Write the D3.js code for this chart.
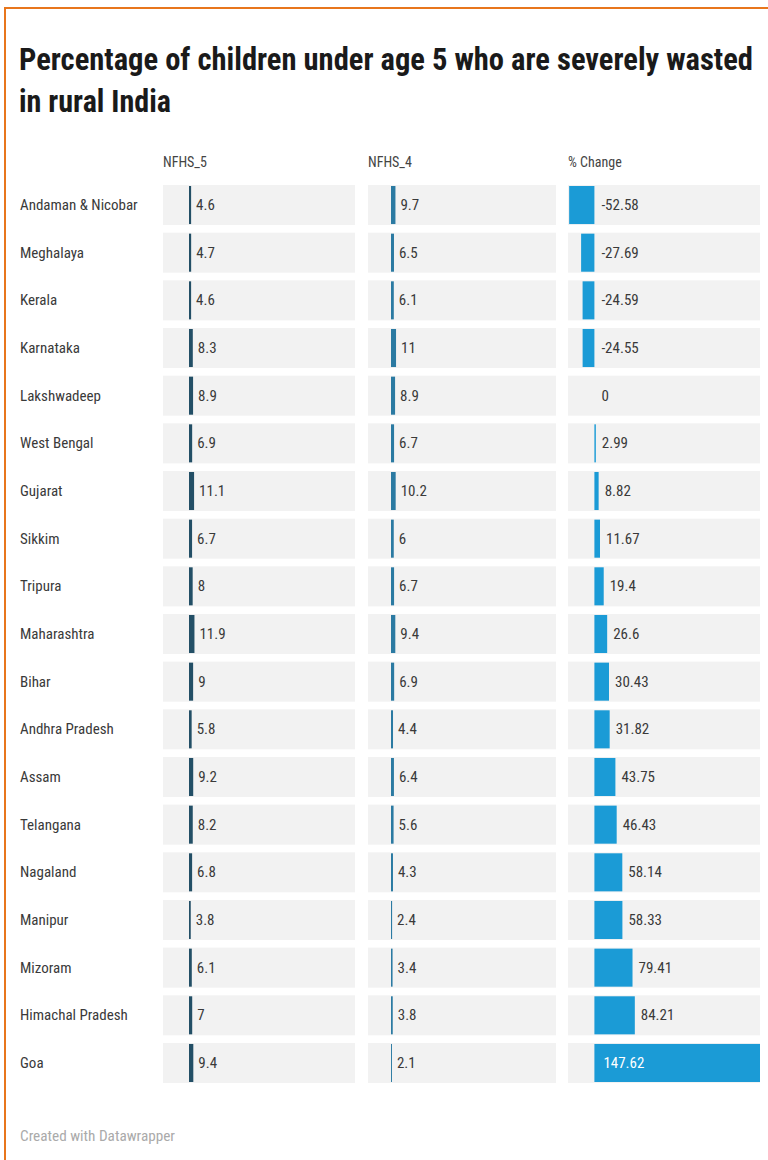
<!DOCTYPE html>
<html><head><meta charset="utf-8">
<script src="https://cdn.jsdelivr.net/npm/d3@7"></script>
<style>
body{margin:0;background:#fff}
text{font-family:"Liberation Sans Narrow","Roboto Condensed","Roboto",sans-serif}
</style>
</head><body><svg id="c" width="768" height="1160"></svg>
<script>
const states = ["Andaman & Nicobar","Meghalaya","Kerala","Karnataka","Lakshwadeep","West Bengal","Gujarat","Sikkim","Tripura","Maharashtra","Bihar","Andhra Pradesh","Assam","Telangana","Nagaland","Manipur","Mizoram","Himachal Pradesh","Goa"];
const nfhs5 = [4.6,4.7,4.6,8.3,8.9,6.9,11.1,6.7,8,11.9,9,5.8,9.2,8.2,6.8,3.8,6.1,7,9.4];
const nfhs4 = [9.7,6.5,6.1,11,8.9,6.7,10.2,6,6.7,9.4,6.9,4.4,6.4,5.6,4.3,2.4,3.4,3.8,2.1];
const change = [-52.58,-27.69,-24.59,-24.55,0,2.99,8.82,11.67,19.4,26.6,30.43,31.82,43.75,46.43,58.14,58.33,79.41,84.21,147.62];
const headers = ["NFHS_5","NFHS_4","% Change"];
const titleLines = ["Percentage of children under age 5 who are severely wasted","in rural India"];
const footer = "Created with Datawrapper";

const svg = d3.select("#c");
const orange = "#e8761c";
svg.append("line").attr("x1",5).attr("x2",768).attr("y1",8).attr("y2",8).attr("stroke",orange).attr("stroke-width",2);
svg.append("line").attr("x1",5).attr("x2",5).attr("y1",7).attr("y2",1160).attr("stroke",orange).attr("stroke-width",2);

// title
const t1 = svg.append("text").attr("x",19).attr("y",70).attr("font-size",32).attr("font-weight","bold").attr("fill","#1a1a1a")
  .text(titleLines[0]);
const natural = t1.node().getComputedTextLength();
if (natural > 734) t1.attr("font-size", 32*734/natural);
t1.attr("textLength",734).attr("lengthAdjust","spacingAndGlyphs");
svg.append("text").attr("x",19).attr("y",112).attr("font-size",32).attr("font-weight","bold").attr("fill","#1a1a1a")
  .attr("textLength",152).attr("lengthAdjust","spacingAndGlyphs").text(titleLines[1]);

const y = d3.scaleBand().domain(states).range([185,1083]).paddingInner(0.16);
const cols = [{x0:163,x1:355},{x0:368,x1:556},{x0:568,x1:760}];

// headers
headers.forEach((h,i)=>{
  svg.append("text").attr("x",cols[i].x0).attr("y",167).attr("font-size",14).attr("fill","#444").text(h);
});

const rows = svg.selectAll("g.row").data(states).join("g").attr("class","row")
  .attr("transform",d=>`translate(0,${y(d)})`);
const bw = y.bandwidth();

rows.append("text").attr("x",20).attr("y",bw/2+5).attr("font-size",15).attr("fill","#3a3a3a").text(d=>d);
cols.forEach(c=>{
  rows.append("rect").attr("x",c.x0).attr("width",c.x1-c.x0).attr("y",0).attr("height",bw).attr("fill","#f2f2f2");
});

const xNF = d3.scaleLinear().domain([0,12]).range([0,5.5]);
const nfStart = [189,391];
const nfColor = ["#234f66","#2b7aa2"];
[nfhs5,nfhs4].forEach((arr,k)=>{
  rows.append("rect").attr("x",nfStart[k]).attr("y",1).attr("height",bw-2)
    .attr("width",(d,i)=>xNF(arr[i])).attr("fill",nfColor[k]);
  rows.append("text").attr("x",(d,i)=>nfStart[k]+xNF(arr[i])+5).attr("y",bw/2+5)
    .attr("font-size",15).attr("fill","#3a3a3a").text((d,i)=>arr[i]);
});

// % change: scale with a break so the top value fills the column
const xC = d3.scaleLinear().domain([-55,0,90,147.62]).range([568,594.4,637.6,760]);
const blue = "#1b9bd6";
rows.append("rect").attr("x",(d,i)=>Math.min(xC(0),xC(change[i]))).attr("y",1).attr("height",bw-2)
  .attr("width",(d,i)=>Math.abs(xC(change[i])-xC(0))).attr("fill",blue);
rows.append("text").attr("y",bw/2+5).attr("font-size",15)
  .attr("x",(d,i)=>{const v=change[i]; if(v<=0) return xC(0)+7; const e=xC(v); return e+50>cols[2].x1? xC(0)+9 : e+6;})
  .attr("fill",(d,i)=>{const v=change[i]; return v>0 && xC(v)+50>cols[2].x1 ? "#fff":"#3a3a3a";})
  .text((d,i)=>change[i]);

svg.append("text").attr("x",20).attr("y",1141).attr("font-size",14).attr("fill","#aaa")
  .attr("textLength",155).attr("lengthAdjust","spacingAndGlyphs").text(footer);
</script>
</body></html>
